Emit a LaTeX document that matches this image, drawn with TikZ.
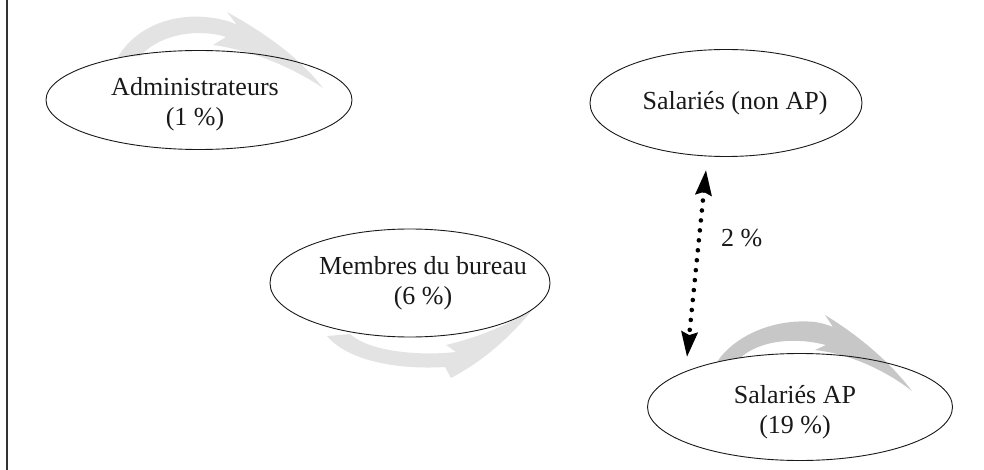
\documentclass[tikz,border=0pt]{standalone}
\usepackage{fontspec}
\setmainfont{Liberation Serif}
\usetikzlibrary{shapes.geometric,arrows.meta}
\begin{document}
\begin{tikzpicture}[x=1pt,y=-1pt,
  oval/.style={draw=black!90, line width=0.9pt, ellipse, inner sep=0pt},
  lbl/.style={font=\fontsize{26}{30}\selectfont, align=center, inner sep=0pt, text=black!90},
  swooshlight/.style={fill=gray!22},
  swooshdark/.style={fill=gray!44},
  dotarrow/.style={line width=4.6pt, dash pattern=on 0pt off 10pt, line cap=round,
     {Stealth[length=25pt,width=16pt,inset=3pt]}-{Stealth[length=25pt,width=16pt,inset=3pt]}}
]
\useasboundingbox (0,0) rectangle (984,470);
\draw[line width=1.4pt, black!80] (7,0) -- (7,470);

% swooshes
\fill[swooshlight] (118,57) .. controls (135,28) and (170,14) .. (205,17)
  .. controls (218,18) and (230,21) .. (237,25) -- (227,12)
  .. controls (265,33) and (300,58) .. (323,88)
  .. controls (290,66) and (250,50) .. (213,45) -- (226,37)
  .. controls (205,30) and (165,30) .. (140,56) -- cycle;
\fill[swooshlight] (327,336) .. controls (347,360) and (395,370) .. (445,367) -- (451,378)
  .. controls (485,360) and (512,335) .. (533,309)
  .. controls (505,327) and (475,338) .. (446,345) -- (456,352)
  .. controls (420,356) and (370,352) .. (350,334) -- cycle;
\fill[swooshdark] (717,362) .. controls (735,335) and (775,318) .. (815,322)
  .. controls (822,323) and (828,325) .. (833,327) -- (825,315)
  .. controls (858,335) and (890,362) .. (912,391)
  .. controls (885,370) and (850,354) .. (815,350) -- (826,345)
  .. controls (795,337) and (760,340) .. (740,358) -- cycle;

% ellipses
\node[oval, minimum width=306, minimum height=99] (adm) at (199,100) {};
\node[oval, minimum width=272, minimum height=107] (sal) at (726,103) {};
\node[oval, minimum width=280, minimum height=108] (mem) at (410,283) {};
\node[oval, minimum width=305, minimum height=107] (ap) at (800,407) {};

% labels
\node[lbl] (admt) at (195,104) {Administrateurs\\(1~\%)};
\node[lbl] (salt) at (735,103) {Salariés (non AP)};
\node[lbl] (memt) at (423,283) {Membres du bureau\\(6~\%)};
\node[lbl] (apt) at (795,412) {Salariés AP\\(19~\%)};

% dotted double arrow
\coordinate (dtop) at (706,170);
\coordinate (dbot) at (687,357);
\draw[dotarrow] (dtop) -- (dbot);
\node[lbl, anchor=west] (pct) at (721,238) {2~\%};
\end{tikzpicture}
\end{document}
